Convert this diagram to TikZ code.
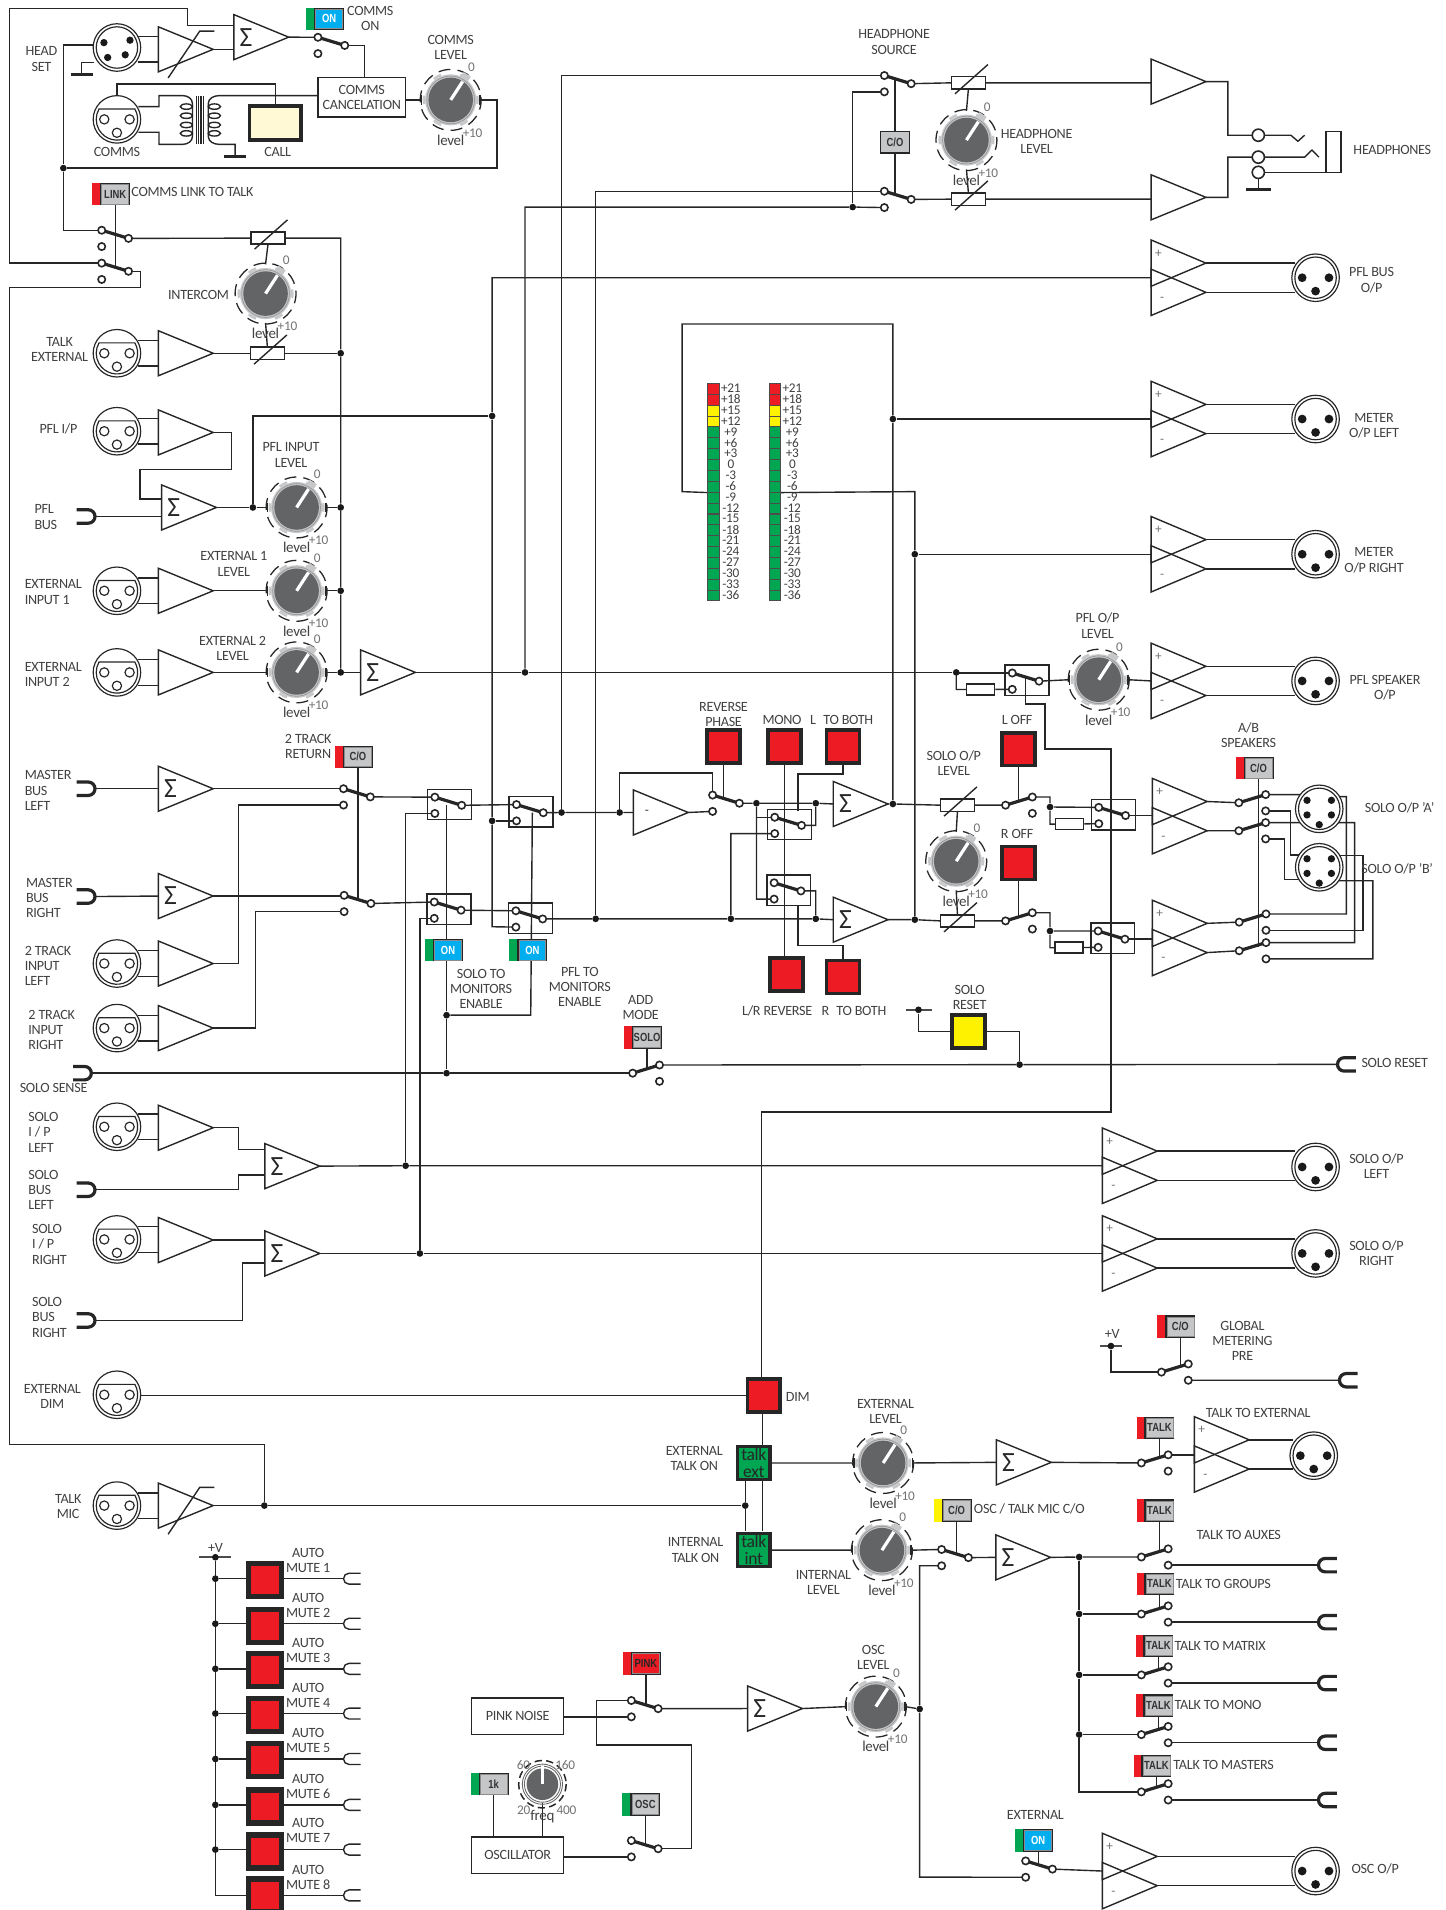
\documentclass[tikz,border=0pt]{standalone}
\usepackage{fontspec}
\setmainfont{Carlito}[LetterSpace=-2]
\newfontfamily\panelfont{Liberation Sans}[FakeStretch=0.8]
\usetikzlibrary{calc}
\pgfdeclarelayer{wires}
\pgfsetlayers{wires,main}
\definecolor{lampred}{HTML}{ED1C24}
\definecolor{lampgreen}{HTML}{00A651}
\definecolor{lampyellow}{HTML}{FFF200}
\definecolor{lampcream}{HTML}{FFF9D6}
\definecolor{onblue}{HTML}{00AEEF}
\definecolor{panelgray}{HTML}{C4C6C8}
\definecolor{knobgray}{HTML}{636466}
\definecolor{ringgray}{HTML}{C7C8CA}
\definecolor{inkgray}{HTML}{414042}
\tikzset{wire/.style={line width=.65pt,draw=black!85}}
\tikzset{wiper/.style={line width=1.5pt,draw=black!85}}
\tikzset{term/.style={fill=white,draw=black!85,line width=.75pt}}
\tikzset{bar/.style={line width=1.5pt,draw=black!85}}
\tikzset{lbl/.style={font=\fontsize{6.6}{7.1}\selectfont,text=inkgray,align=center,inner sep=0pt}}
\tikzset{lbll/.style={lbl,align=left,anchor=west}}
\tikzset{small/.style={font=\fontsize{6.2}{7}\selectfont,text=black!55,inner sep=0pt}}
\tikzset{dot/.style={circle,fill=black!90,inner sep=0pt,minimum size=.11cm}}
\tikzset{ring/.style={circle,draw=black!85,fill=white,line width=.75pt,inner sep=0pt,minimum size=.2cm}}
\tikzset{lamp/.style={rectangle,draw=black!85,line width=1.7pt,fill=lampred,inner sep=0pt,minimum size=.54cm}}
\tikzset{biglamp/.style={lamp,line width=2.5pt,minimum size=.54cm}}
\tikzset{talklamp/.style={lamp,fill=lampgreen,align=center,text=black!85,font=\fontsize{8.2}{7.6}\selectfont}}
\tikzset{res/.style={rectangle,draw=black!85,fill=white,line width=.7pt,inner sep=0pt,minimum width=.5cm,minimum height=.18cm}}
\tikzset{blockbox/.style={rectangle,draw=black!85,fill=white,line width=.7pt,inner sep=0pt,align=center,text=inkgray,font=\fontsize{6.6}{7.1}\selectfont}}
\tikzset{seg/.style={rectangle,draw=black!70,line width=.4pt,inner sep=0pt,minimum width=.19cm,minimum height=.178cm}}
\tikzset{panelbox/.style={rectangle,draw=black!85,line width=.6pt,inner sep=0pt,minimum width=.47cm,minimum height=.35cm,text=black!80,font=\panelfont\bfseries\fontsize{5.5}{6}\selectfont}}
% switch, contacts on the left
\tikzset{swr/.pic={
  \coordinate (-a) at (0,0);
  \coordinate (-b) at (0,13.4);
  \coordinate (-c) at (22,6.7);
  \coordinate (-m) at (11,3.35);
  \draw[wiper] (-a) -- (-c);
  \draw[term] (-a) circle (3) (-b) circle (3) (-c) circle (3);
}}
% switch, contacts on the right
\tikzset{swl/.pic={
  \coordinate (-c) at (0,0);
  \coordinate (-a) at (22,-6.7);
  \coordinate (-b) at (22,6.7);
  \coordinate (-m) at (11,-3.35);
  \draw[wiper] (-c) -- (-a);
  \draw[term] (-a) circle (3) (-b) circle (3) (-c) circle (3);
}}
\tikzset{swb/.pic={
  \coordinate (-a) at (0,0);
  \coordinate (-b) at (0,13.4);
  \coordinate (-c) at (22,6.7);
  \coordinate (-m) at (11,3.35);
  \draw[wire] (-6,-6.5) rectangle (30,18.5);
  \draw[wiper] (-a) -- (-c);
  \draw[term] (-a) circle (3) (-b) circle (3) (-c) circle (3);
}}
\tikzset{amp/.pic={
  \coordinate (-in) at (0,0);
  \coordinate (-out) at (45,0);
  \draw[wire,line join=miter] (0,-18.5) -- (45,0) -- (0,18.5) -- cycle;
}}
\tikzset{sumamp/.pic={
  \coordinate (-in) at (0,0);
  \coordinate (-out) at (45,0);
  \draw[wire,line join=miter] (0,-18.5) -- (45,0) -- (0,18.5) -- cycle;
  \node[inner sep=0pt,text=black!85,font=\fontsize{13}{13}\selectfont] (-s) at (10,0) {Σ};
}}
\tikzset{negamp/.pic={
  \coordinate (-in) at (0,0);
  \coordinate (-out) at (45,0);
  \draw[wire,line join=miter] (0,-18.5) -- (45,0) -- (0,18.5) -- cycle;
  \node[small,text=black!80] (-s) at (11,0) {-};
}}
\tikzset{vcaamp/.pic={
  \coordinate (-in) at (0,0);
  \coordinate (-out) at (45,0);
  \draw[wire,line join=miter] (0,-18.5) -- (45,0) -- (0,18.5) -- cycle;
  \draw[wire] (8,23.5) -- (34,-15) -- (46,-15);
}}
\tikzset{diffamp/.pic={
  \coordinate (-in) at (0,0);
  \coordinate (-tu) at (45,-12);
  \coordinate (-td) at (45,12);
  \draw[wire,line join=miter] (0,-31) -- (45,-12) -- (0,7) -- cycle;
  \draw[wire,line join=miter] (0,-7) -- (45,12) -- (0,31) -- cycle;
  \node[small] (-p) at (6,-20) {+};
  \node[small] (-q) at (9,18) {-};
}}
\tikzset{xlrf/.pic={
  \coordinate (-u) at (17,-10.5);
  \coordinate (-d) at (17,10.5);
  \coordinate (-r) at (19,0);
  \coordinate (-t) at (0,-19);
  \draw[term,line width=.55pt] (0,0) circle (19.5);
  \draw[line width=.55pt,draw=black!85] (-30:17) arc[start angle=-30,end angle=210,radius=17] -- cycle;
  \draw[line width=.55pt,draw=black!85] (-10.4,0) circle (3.8) (10.4,0) circle (3.8) (0,11) circle (3.8);
}}
\tikzset{xlrm/.pic={
  \coordinate (-u) at (-17,-12);
  \coordinate (-d) at (-17,12);
  \draw[term,line width=.55pt] (0,0) circle (19.5) (0,0) circle (17);
  \fill[black!90] (-11,0) circle (3.6) (11,0) circle (3.6) (0,11) circle (3.6);
}}
\tikzset{xlrv/.pic={
  \draw[term,line width=.55pt] (0,0) circle (19.5) (0,0) circle (17);
  \fill[black!90] (-10,-7) circle (3) (10,-7) circle (3) (-10,5) circle (3) (10,5) circle (3) (0,13) circle (3);
}}
\tikzset{jackl/.pic={
  \coordinate (-p) at (0,0);
  \draw[bar] (-15,-5.5) -- (-5.5,-5.5) arc[start angle=-90,end angle=90,radius=5.5] -- (-15,5.5);
}}
\tikzset{jackr/.pic={
  \coordinate (-p) at (0,0);
  \draw[bar] (15,-5.5) -- (5.5,-5.5) arc[start angle=270,end angle=90,radius=5.5] -- (15,5.5);
}}
\tikzset{jackm/.pic={
  \coordinate (-p) at (0,0);
  \draw[wire] (14,-4.5) -- (4.5,-4.5) arc[start angle=270,end angle=90,radius=4.5] -- (14,4.5);
}}
\tikzset{vres/.pic={
  \coordinate (-t) at (0,-5);
  \coordinate (-b) at (0,5);
  \coordinate (-l) at (-14,0);
  \coordinate (-r) at (14,0);
  \draw[term,line width=.7pt] (-14,-5) rectangle (14,5);
  \draw[wire] (-11,9) -- (16,-15);
}}
\newcommand{\knobdraw}{%
  \draw[line width=.6pt,draw=black!85,dash pattern=on 5.6pt off 3.3pt,dash phase=1pt] (0,0) circle (25);
  \fill[ringgray] (0,0) circle (21);
  \foreach \ang in {-120,-180,60,120,0,-60}
    \draw[ringgray,line width=1.2pt] (\ang-9:22) arc[start angle=\ang-9,end angle=\ang+9,radius=22];
  \fill[ringgray] (-57:20) -- ++(33:3.5) -- ++(-57:5) -- ++(213:7) -- ++(123:5) -- cycle;
  \draw[line width=.35pt,draw=black!40] (0,0) circle (19.6);
  \fill[knobgray] (0,0) circle (18.3);
  \draw[white,line width=1.5pt] (0,0) -- (-57:18);
  \node[small] (-z) at (17,-27) {0};
  \node[small] (-v) at (18,27) {+10};
  \node[small,text=inkgray,font=\fontsize{7}{7}\selectfont] (-w) at (0,33) {level};
  \coordinate (-l) at (-24,0);
  \coordinate (-r) at (24,0);
  \coordinate (-t) at (0,-24);
  \coordinate (-b) at (0,24);
}
\tikzset{knob/.pic={\knobdraw}}
\tikzset{knobt/.pic={
  \draw[wire] (-24,-4) -- (-24,4) (24,-4) -- (24,4);
  \knobdraw
}}
\newcommand{\panel}[6]{%
  \node[panelbox,#5] (#1) at (#2,#3) {#6};
  \fill[#4] ([xshift=-.13cm]#1.north west) rectangle (#1.south west);
  \draw[line width=.3pt,draw=black!45] ([shift={(.7pt,-.7pt)}]#1.north west) rectangle ([shift={(-.7pt,.7pt)}]#1.south east);
}

\begin{document}
\begin{tikzpicture}[x=.02cm,y=-.02cm]
  \useasboundingbox (0,0) rectangle (1187,1568);
  % ---- sockets and amps
  \foreach \nm/\x/\y in {xComms/96/98,xTalkExt/96/290,xPfl/96/354,xExt1/96/485,xExt2/96/552,x2L/96/791,x2R/96/844,xSoloL/96/925,xSoloR/96/1017.5,xDim/96/1145,xMic/96/1236}
    \pic (\nm) at (\x,\y) {xlrf};
  \foreach \nm/\x/\y in {oPflBus/1080/228,oMetL/1080/344,oMetR/1080/455,oPflSp/1080/559,oSoloL/1080/958,oSoloR/1080/1029,oTalk/1078.5/1195,oOsc/1080/1536}
    \pic (\nm) at (\x,\y) {xlrm};
  \foreach \nm/\x/\y in {aTalkExt/130/290,aPfl/130/355,aExt1/130/485,aExt2/130/552,a2L/130/791,a2R/130/844,aSoloL/130/925.8,aSoloR/130/1018,aHpL/945/67,aHpR/945/162}
    \pic (\nm) at (\x,\y) {amp};
  \foreach \nm/\x/\y in {sComms/192/30.5,sPfl/132.7/416.6,sExt/296/552,sMastL/130/647.5,sMastR/130/735.6,sSoloL/217.5/957.3,sSoloR/217.5/1029,sMonoL/684/660,sMonoR/684/755,sExtTalk/818/1200.5,sIntTalk/817.5/1278.5,sOsc/613.8/1402.6}
    \pic (\nm) at (\x,\y) {sumamp};
  \pic (aHead) at (130,40.5) {vcaamp};
  \pic (aMic) at (130,1236) {vcaamp};
  \pic (aRev) at (520,667) {negamp};
  \foreach \nm/\x/\y in {dPflBus/945/228,dMetL/945/344,dMetR/945/455,dPflSp/945/559,dA/946/670,dB/946/770,dSoloL/905/957,dSoloR/905/1029,dTalk/980.5/1194,dOsc/905/1536}
    \pic (\nm) at (\x,\y) {diffamp};
  % head set and 5 pin sockets
  \draw[term,line width=.55pt] (96,39) circle (19.5) (96,39) circle (17);
  \fill[black!90] (85.3,35) circle (3) (106.7,33) circle (3) (88.4,47.2) circle (3) (102.8,45) circle (3);
  \pic (oSpkA) at (1083,664) {xlrv};
  \pic (oSpkB) at (1083,712) {xlrv};
  % ---- knobs
  \foreach \nm/\x/\y in {kIntercom/218/241,kHp/793.4/115,kSoloOut/785/707}
    \pic (\nm) at (\x,\y) {knob};
  \foreach \nm/\x/\y in {kComms/370/82,kPfl/243.5/416.6,kExt1/243.5/485,kExt2/243.5/552,kPflOut/902/558,kExtTalk/725/1201,kIntTalk/724/1272.6,kOsc/719/1401}
    \pic (\nm) at (\x,\y) {knobt};
  % freq knob
  \draw[line width=.7pt,draw=black!85,dash pattern=on 3.4pt off 2pt] (445.3,1464.7) circle (19.5);
  \draw[line width=.4pt,draw=black!60] (445.3,1464.7) circle (16.5) (445.3,1464.7) circle (14.8);
  \fill[knobgray] (445.3,1464.7) circle (13);
  \draw[white,line width=1.4pt] (445.3,1464.7) -- (445.3,1450);
  % ---- resistors
  \foreach \nm/\x/\y in {rIntercom/220/195.5,rTalkExt/219.5/290,rHpL/795/68,rHpR/795/163.5,rSoloL/786/661,rSoloR/786/756}
    \pic (\nm) at (\x,\y) {vres};
  \foreach \nm/\x/\y in {rPflOut/805/566,rSoloA/878/676.5,rSoloB/877.5/778}
    \node[res,minimum width=.46cm] (\nm) at (\x,\y) {};
  % ---- switches
  \foreach \nm/\x/\y in {wComms/261/30.6,wLink1/83.5/189,wLink2/83.5/216,wHp1/726/62,wHp2/726/157,w2L/282/647.5,w2R/282.5/735,wRev/585/652.7,wIntSel/773/1272,wPink/518.3/1396,wOsc/518.3/1511,wExtOn/842/1527.7}
    \pic (\nm) at (\x,\y) {swr};
  \foreach \nm/\x/\y in {wMon1/357/654.4,wPfl1/424/660.5,wMon2/356.5/740.5,wPfl2/423.5/747.7,wMono1/636/670.9,wMono2/635.5/724.7,wPflOut/831/552.5,wBoxL/902/662.8,wBoxR/901.5/764.3}
    \pic (\nm) at (\x,\y) {swb};
  \foreach \nm/\x/\y in {wAdd/519.4/881,wLoff/825.5/661,wRoff/825.5/756,wAB1/1017/659,wAB2/1017/682,wAB3/1017.3/757,wAB4/1017.3/780.5,wGlobal/953.5/1126.4,wTalk1/937/1201,wTalk2/937/1278.2,wTalk3/937/1325,wTalk4/937/1375,wTalk5/937/1424,wTalk6/937/1471}
    \pic (\nm) at (\x,\y) {swl};
  % ---- lamps
  \foreach \nm/\x/\y in {lRev/594/613,lMono/644/613,lLBoth/692/613,lLR/645.7/800,lRBoth/692/802,lLoff/836/615,lRoff/836/708.5,lDim/627/1145.5}
    \node[lamp] (\nm) at (\x,\y) {};
  \node[lamp,fill=lampyellow] (lReset) at (795,847) {};
  \node[lamp,fill=lampcream,minimum width=.85cm,minimum height=.55cm] (lCall) at (226,101) {};
  \node[talklamp] (tExt) at (618.8,1201) {talk\\ext};
  \node[talklamp] (tInt) at (618.8,1272.5) {talk\\int};
  % ---- panel buttons
  \panel{pComms}{270.25}{15.5}{lampgreen}{fill=onblue,text=white}{ON}
  \panel{pLink}{94.6}{159.3}{lampred}{fill=panelgray}{LINK}
  \panel{p2T}{293.8}{621.3}{lampred}{fill=panelgray}{C/O}
  \panel{pMon}{367.8}{780}{lampgreen}{fill=onblue,text=white}{ON}
  \panel{pPfl}{437}{780}{lampgreen}{fill=onblue,text=white}{ON}
  \panel{pSolo}{531.2}{851.7}{lampred}{fill=panelgray}{SOLO}
  \node[panelbox,fill=panelgray] (pHp) at (734.7,116.8) {C/O};
  \panel{pAB}{1033.2}{630.6}{lampred}{fill=panelgray}{C/O}
  \panel{pGlobal}{969}{1089.2}{lampred}{fill=panelgray}{C/O}
  \panel{pT1}{951.8}{1172.2}{lampred}{fill=panelgray}{TALK}
  \panel{pT2}{951.8}{1240.2}{lampred}{fill=panelgray}{TALK}
  \panel{pT3}{951.8}{1300.3}{lampred}{fill=panelgray}{TALK}
  \panel{pT4}{951}{1351.2}{lampred}{fill=panelgray}{TALK}
  \panel{pT5}{951}{1400.3}{lampred}{fill=panelgray}{TALK}
  \panel{pT6}{949.3}{1449.6}{lampred}{fill=panelgray}{TALK}
  \panel{pSel}{785.3}{1239.8}{lampyellow}{fill=panelgray}{C/O}
  \panel{pExtOn}{852.3}{1511}{lampgreen}{fill=onblue,text=white}{ON}
  \panel{pPink}{530.2}{1365.5}{lampred}{fill=lampred,text=black!85}{PINK}
  \panel{pOsc}{529.8}{1481.2}{lampgreen}{fill=panelgray}{OSC}
  \panel{p1k}{405.2}{1464.7}{lampgreen}{fill=panelgray}{1k}
  % ---- blocks
  \node[blockbox,minimum width=1.43cm,minimum height=.65cm] (bCancel) at (297,80) {COMMS\\CANCELATION};
  \node[blockbox,minimum width=1.51cm,minimum height=.6cm] (bPink) at (425,1409) {PINK NOISE};
  \node[blockbox,minimum width=1.51cm,minimum height=.6cm] (bOsc) at (425,1523) {OSCILLATOR};
  % ---- bus connectors
  \foreach \nm/\x/\y in {cPfl/78/424,cMastL/78/647.5,cMastR/78/736,cSense/75/881,cSoloL/78/976.7,cSoloR/78/1084}
    \pic (\nm) at (\x,\y) {jackl};
  \foreach \nm/\x/\y in {cReset/1098/873.8,cGlobal/1099.6/1133.1,cT2/1082.4/1284.9,cT3/1082.4/1331.7,cT4/1082.4/1381.7,cT5/1082.4/1430.7,cT6/1082.4/1477.7}
    \pic (\nm) at (\x,\y) {jackr};
  % ---- meters
  \foreach \lab [count=\i from 0] in {+21,+18,+15,+12,+9,+6,+3,0,-3,-6,-9,-12,-15,-18,-21,-24,-27,-30,-33,-36} {
    \ifnum\i<2 \def\segcol{lampred}\else\ifnum\i<4 \def\segcol{lampyellow}\else\def\segcol{lampgreen}\fi\fi
    \node[seg,fill=\segcol] (mL\i) at (585.6,{319.2+8.93*\i}) {};
    \node[seg,fill=\segcol] (mR\i) at (636.2,{319.2+8.93*\i}) {};
    \node[small,text=inkgray] (tL\i) at (600,{318.7+8.93*\i}) {\lab};
    \node[small,text=inkgray] (tR\i) at (650.5,{318.7+8.93*\i}) {\lab};
  }
  % ---- junctions
  \foreach \nm/\x/\y in {jHead/52/138,jBus1/279.7/290,jBus2/279.7/416.6,jBus3/279.7/485,jBus4/279.7/552,jPfl/207.6/416.6,jPflBus/404/341.5,jPflIn/404/673.9,jSum/431/552,jLeft/461/667,jRev/508.7/667,jRight/489/754.3,jHp/700/170,jMet1/733/344,jMet2/751/455,jMeterL/733/660,jMeterR/751/755,jSumSp/785/552,jMix1/621/659.4,jMix2/669.7/659.4,jMix3/600/754.3,jMix4/669.7/754.3,jSolo1/333/957,jSolo2/344.7/1029,jMon/366.6/833.4,jSense/366.6/881,jReset/837/874,jL/862/662.5,jR/862/764.3,jTalk/217/1236,jDimTalk/611.8/1236,jT1/885.9/1278.2,jT2/885.9/1325,jT3/885.9/1375,jT4/885.9/1424,jOsc/755/1403,jV1/912/1105,jV2/754/829,jV0/176.8/1278.4}
    \node[dot] (\nm) at (\x,\y) {};
  % ---- auto mutes
  \foreach \i/\ly/\wy/\ty in {1/1297/1296/1281,2/1335/1333/1318,3/1371/1370/1355,4/1408/1406.7/1392,5/1445/1444/1429,6/1483/1481.7/1466.5,7/1520/1518.4/1503,8/1556/1556/1541} {
    \node[biglamp] (lM\i) at (217.5,\ly) {};
    \pic (cM\i) at (282,\wy) {jackm};
    \coordinate (vM\i) at (176.8,\wy);
    \node[lbl] (tM\i) at (253,\ty) {AUTO\\MUTE \i};
    \ifnum\i<8 \node[dot] (jM\i) at (vM\i) {}; \fi
  }
  % ---- labels
  \foreach \nm/\x/\y/\t in {tHead/34/48.5/{HEAD\\SET},tCommsOn/304/15/{COMMS\\ON},tCommsLev/370/39/{COMMS\\LEVEL},tComms/96/125/{COMMS},tCall/228/125/{CALL},tLink/158/158/{COMMS LINK TO TALK},tIntercom/163/242/{INTERCOM},tTalkExt/49/287/{TALK\\EXTERNAL},tPflIp/48/352/{PFL I/P},tPflLev/239/373.5/{PFL INPUT\\LEVEL},tExt1Lev/192/463/{EXTERNAL 1\\LEVEL},tExt2Lev/191/532/{EXTERNAL 2\\LEVEL},t2Ret/253/613/{2 TRACK\\RETURN},tSense/44/893/{SOLO SENSE},tDimIn/43/1146.5/{EXTERNAL\\DIM},tMic/56/1237/{TALK\\MIC},tHpSrc/734/34.5/{HEADPHONE\\SOURCE},tHpLev/851/116/{HEADPHONE\\LEVEL},tHp/1143/123/{HEADPHONES},tPflBus/1126/230/{PFL BUS\\O/P},tMetL/1128/349.5/{METER\\O/P LEFT},tMetR/1128/460/{METER\\O/P RIGHT},tPflSp/1137/564.5/{PFL SPEAKER\\O/P},tPflOutLev/901/513.5/{PFL O/P\\LEVEL},tRevPh/594/586.5/{REVERSE\\PHASE},tMono/642/591/{MONO},tLBoth/691/591/{L\kern2pt\ TO BOTH},tLRrev/638/830/{L/R REVERSE},tRBoth/701/830/{R\kern2pt\ TO BOTH},tLoff/835/591/{L OFF},tRoff/835/685/{R OFF},tSoloLev/783/626.5/{SOLO O/P\\LEVEL},tAB/1025/603.5/{A/B\\SPEAKERS},tSpkA/1149/663/{SOLO O/P 'A'},tSpkB/1147/713/{SOLO O/P 'B'},tSoloMon/395/812/{SOLO TO\\MONITORS\\ENABLE},tPflMon/476/810/{PFL TO\\MONITORS\\ENABLE},tAdd/526/827/{ADD\\MODE},tReset/796/819/{SOLO\\RESET},tResetOut/1145/873/{SOLO RESET},tSoloOutL/1130/957.5/{SOLO O/P\\LEFT},tSoloOutR/1130/1028.5/{SOLO O/P\\RIGHT},tGlobal/1020/1101/{GLOBAL\\METERING\\PRE},tGv/913/1095/{+V},tTalkToExt/1033/1160/{TALK TO EXTERNAL},tDim/655/1147/{DIM},tExtOn/570/1197.5/{EXTERNAL\\TALK ON},tIntOn/571/1272.5/{INTERNAL\\TALK ON},tExtLev/727/1159/{EXTERNAL\\LEVEL},tIntLev/676/1299/{INTERNAL\\LEVEL},tSel/845/1239/{OSC / TALK MIC C/O},tAuxes/1017/1260/{TALK TO AUXES},tExternal/850/1490/{EXTERNAL},tOscOut/1129/1534/{OSC O/P},tOscLev/717/1360.5/{OSC\\LEVEL},tVm/177/1271/{+V}}
    \node[lbl] (\nm) at (\x,\y) {\t};
  \foreach \nm/\x/\y/\t in {tPflB/28/424.5/{PFL\\BUS},tMastL/20/649/{MASTER\\BUS\\LEFT},tMastR/21/737/{MASTER\\BUS\\RIGHT},t2L/20/793/{2 TRACK\\INPUT\\LEFT},t2R/23/845.5/{2 TRACK\\INPUT\\RIGHT},tSoloIL/23/929.5/{SOLO\\I / P\\LEFT},tSoloBL/23/977/{SOLO\\BUS\\LEFT},tSoloIR/26/1021.5/{SOLO\\I / P\\RIGHT},tSoloBR/26/1081.5/{SOLO\\BUS\\RIGHT},tExt1/20/486/{EXTERNAL\\INPUT 1},tExt2/20/554/{EXTERNAL\\INPUT 2},tTG/965/1300/{TALK TO GROUPS},tTMx/964/1351/{TALK TO MATRIX},tTMo/964/1400/{TALK TO MONO},tTMa/963/1449/{TALK TO MASTERS}}
    \node[lbll] (\nm) at (\x,\y) {\t};
  \foreach \nm/\x/\y/\t in {t60/429.7/1448.6/60,t160/464/1448.6/160,t20/430/1486.4/20,t400/465/1486.4/400}
    \node[small] (\nm) at (\x,\y) {\t};
  \node[small,text=inkgray,font=\fontsize{7}{7}\selectfont] (tFreq) at (445.3,1491.5) {freq};
  % ---- wires
  \begin{pgfonlayer}{wires}
    % head set and comms
    \draw[wire] (sComms-in |- 0,21) -- (154,21) -- (154,7) -- (8,7) -- (8,216) -- (wLink2-a);
    \draw[wire] (77,37) -- (52,37) -- (jHead) -- (52,189) -- (wLink1-a);
    \draw[wire] (77,51.5) -- (67,51.5) -- (67,61);
    \draw[bar] (58,61) -- (76,61);
    \draw[wire] (113,30) -- (130,30) (113,51) -- (130,51);
    \draw[wire] (aHead-out) -- (sComms-in |- aHead-out);
    \draw[wire] (sComms-out) -- (wComms-a);
    \draw[wire] (wComms-c) -| (bCancel.north -| 299,0);
    \draw[wire] (xComms-t) |- (lCall.north |- 0,69) -- (lCall.north);
    \draw[wire] (113.6,87.5) -- (130.5,87.5) -- (130.5,78.5) -- (150,78.5) to[out=0,in=90] (158,85) -- (158,112) to[out=-90,in=0] (150,118.5) -- (130.5,118.5) -- (130.5,108.6) -- (113.6,108.6);
    \draw[wire] (bCancel.west |- 0,78.5) -- (180,78.5) to[out=180,in=90] (171,85) -- (171,112) to[out=-90,in=180] (180,118.5) -- (193,118.5) -- (193,128.6);
    \draw[bar] (184,128.6) -- (202,128.6);
    \draw[wire] (bCancel.east |- kComms-l) -- (kComms-l) (kComms-r) -- (408,82) -- (408,138) -- (jHead);
    % transformer
    \foreach \ey in {87.5,95,102.6,109.5} {
      \draw[wire] (153,\ey) ellipse (5 and 2.2);
      \draw[wire] (176,\ey) ellipse (5 and 2.2);
    }
    \draw[line width=.5pt,draw=black!85] (161,79) -- (161,118) (163,79) -- (163,118) (165,79) -- (165,118) (167,79) -- (167,118);
    % intercom
    \draw[wire] (wLink1-c) -- (rIntercom-l) (rIntercom-r) -- (279.7,195.5) -- (jBus1) -- (jBus2) -- (jBus3) -- (jBus4);
    \draw[wire] (wLink2-c) -- (115.5,222.7) -- (115.5,236) -- (8,236) -- (8,1186) -- (217,1186) -- (jTalk);
    \draw[wire] (rIntercom-b) -- (kIntercom-t) (kIntercom-b) -- (rTalkExt-t);
    \draw[wire] (pLink.south) -- (pLink.south |- wLink2-m);
    \draw[wire] (aTalkExt-out) -- (rTalkExt-l) (rTalkExt-r) -- (jBus1);
    % inputs
    \foreach \a/\b in {xTalkExt/aTalkExt,xPfl/aPfl,xExt1/aExt1,xExt2/aExt2,x2L/a2L,x2R/a2R,xSoloL/aSoloL,xSoloR/aSoloR,xMic/aMic}
      \draw[wire] (\a-u) -- (\a-u -| \b-in) (\a-d) -- (\a-d -| \b-in);
    \foreach \a/\b in {dPflBus/oPflBus,dMetL/oMetL,dMetR/oMetR,dPflSp/oPflSp,dSoloL/oSoloL,dSoloR/oSoloR,dTalk/oTalk,dOsc/oOsc}
      \draw[wire] (\a-tu) -- (\a-tu -| \b-u) (\a-td) -- (\a-td -| \b-d);
    \draw[wire] (aPfl-out) -- (190,355) -- (190,385.6) -- (115,385.6) -- (115,409.7) -- (sPfl-in |- 0,409.7);
    \draw[wire] (cPfl-p) -- (sPfl-in |- cPfl-p);
    \draw[wire] (sPfl-out) -- (jPfl) -- (kPfl-l) (kPfl-r) -- (jBus2);
    \draw[wire] (aExt1-out) -- (kExt1-l) (kExt1-r) -- (jBus3);
    \draw[wire] (aExt2-out) -- (kExt2-l) (kExt2-r) -- (jBus4) -- (sExt-in);
    \draw[wire] (jPfl) -- (207.6,341.5) -- (jPflBus);
    \draw[wire] (dPflBus-in) -- (404,228) -- (jPflBus) -- (jPflIn) -- (404,760.8) -- (wPfl2-b);
    \draw[wire] (jPflIn) -- (wPfl1-b);
    \draw[wire] (sExt-out) -- (jSum) -- (jSumSp) -- (785,552.5) -- (wPflOut-a);
    \draw[wire] (jSumSp) -- (785,566) -- (rPflOut) -- (wPflOut-b);
    \draw[wire] (wPflOut-c) -- (kPflOut-l) (kPflOut-r) -- (dPflSp-in);
    % headphones
    \draw[wire] (jSum) -- (431,170) -- (jHp) -- (wHp2-b);
    \draw[wire] (jHp) -- (700,75.4) -- (wHp1-b);
    \draw[wire] (wHp1-a) -- (461,62) -- (jLeft);
    \draw[wire] (wHp2-a) -- (489,157) -- (jRight);
    \draw[wire] (wHp1-c) -- (rHpL-l) (rHpL-r) -- (aHpL-in |- rHpL-r);
    \draw[wire] (wHp2-c) -- (rHpR-l) (rHpR-r) -- (aHpR-in |- rHpR-r);
    \draw[wire] (rHpL-b) -- (kHp-t) (kHp-b) -- (rHpR-t);
    \draw[wire] (wHp1-m -| pHp.north) -- (wHp2-m -| pHp.south);
    \draw[wire] (aHpL-out) -- (1008,67) -- (1008,111) -- (1059.7,111) -- (1065.5,116) -- (1071,111);
    \draw[wire] (aHpR-out) -- (1008,162) -- (1008,129) -- (1071,129) -- (1077,123.2) -- (1082.7,129);
    \draw[wire] (1033,141.5) -- (1088.7,141.5) -- (1088.7,107.8) -- (1101,107.8) -- (1101,141.5) -- (1088.7,141.5);
    \draw[wire] (1033,141.5) -- (1033,155.5);
    \draw[bar] (1023,155.5) -- (1043.7,155.5);
    % meters
    \draw[wire] (mL9.south west) -- (560,403.6) -- (560,266) -- (733,266) -- (jMet1) -- (jMeterL);
    \draw[wire] (mR9.south east) -- (751,403.6) -- (jMet2) -- (jMeterR);
    \draw[wire] (jMet1) -- (dMetL-in);
    \draw[wire] (jMet2) -- (dMetR-in);
    % 2 track and monitors
    \draw[wire] (sMastL-out) -- (w2L-a);
    \draw[wire] (sMastR-out) -- (sMastR-out -| w2R-a);
    \draw[wire] (cMastL-p) -- (sMastL-in);
    \draw[wire] (cMastR-p) -- (sMastR-in);
    \draw[wire] (p2T.south) -- (p2T.south |- w2R-m);
    \draw[wire] (a2L-out) -- (195.6,791) -- (195.6,660.9) -- (w2L-b);
    \draw[wire] (a2R-out) -- (209.6,844) -- (209.6,748.4) -- (w2R-b);
    \draw[wire] (w2L-c) -- (wMon1-a) (wMon1-c) -- (wPfl1-a) (wPfl1-c) -- (jLeft) -- (jRev) -- (aRev-in);
    \draw[wire] (w2R-c) -- (wMon2-a) (wMon2-c) -- (wPfl2-a) (wPfl2-c) -- (jRight) -- (jMix3) -- (jMix4) -- (sMonoR-in);
    \draw[wire] (wMon1-b) -- (333,667.8) -- (jSolo1);
    \draw[wire] (wMon2-b) -- (344.7,753.9) -- (jSolo2);
    \draw[wire] (wMon1-c -| jMon) -- (jMon) -- (jSense);
    \draw[wire] (wPfl1-c -| pPfl.north) -- (435.7,833.4) -- (jMon);
    \draw[wire] (cSense-p) -- (jSense) -- (wAdd-c);
    \draw[wire] (jRev) -- (508.7,634.7) -- (585,634.7) -- (wRev-a);
    \draw[wire] (aRev-out) -- (wRev-b);
    \draw[wire] (wRev-c) -- (jMix1) -- (jMix2) -- (sMonoL-in);
    \draw[wire] (jMix1) -- (621,738.1) -- (wMono2-b);
    \draw[wire] (621,670.9) -- (wMono1-a);
    \draw[wire] (jMix3) -- (600,684.3) -- (wMono1-b);
    \draw[wire] (wMono1-c) -- (669.7,677.6) -- (jMix2);
    \draw[wire] (wMono2-c) -- (669.7,731.4) -- (jMix4);
    \draw[wire] (lMono.south) -- (lMono.south |- lLR.north);
    \draw[wire] (lLBoth.south) -- (lLBoth.south |- 0,635.5) -- (655,635.5) -- (655,665.6);
    \draw[wire] (655,743.8) -- (655,776) -- (lRBoth.north |- 0,776) -- (lRBoth.north);
    \draw[wire] (lRev.south) -- (lRev.south |- wRev-m);
    % solo outputs
    \draw[wire] (sMonoL-out) -- (jMeterL) -- (rSoloL-l) (rSoloL-r) -- (wLoff-c);
    \draw[wire] (sMonoR-out) -- (jMeterR) -- (rSoloR-l) (rSoloR-r) -- (wRoff-c);
    \draw[wire] (rSoloL-b) -- (kSoloOut-t) (kSoloOut-b) -- (rSoloR-t);
    \draw[wire] (lLoff.south) -- (lLoff.south |- wLoff-m);
    \draw[wire] (lRoff.south) -- (lRoff.south |- wRoff-m);
    \draw[wire] (wLoff-a) -- (862,654.3) -- (jL) -- (wBoxL-a);
    \draw[wire] (jL) -- (862,676.5) -- (rSoloA) -- (wBoxL-b);
    \draw[wire] (wRoff-a) -- (862,749.3) -- (jR) -- (wBoxR-a);
    \draw[wire] (jR) -- (862,778) -- (rSoloB) -- (wBoxR-b);
    \draw[wire] (wBoxL-c) -- (dA-in |- wBoxL-c);
    \draw[wire] (wBoxR-c) -- (dB-in |- wBoxR-c);
    \draw[wire] (dA-tu) -- (wAB1-c) (dA-td) -- (wAB2-c) (dB-tu) -- (wAB3-c) (dB-td) -- (wAB4-c);
    \draw[wire] (pAB.south) -- (pAB.south |- wAB4-m);
    \draw[wire] (wAB1-a) -- (1068,652.3) (1098,654) -- (1105.3,654) -- (1105.3,750.3) -- (wAB3-a);
    \draw[wire] (wAB1-b) -- (1059.6,665.7) -- (1059.6,702) -- (1066,702);
    \draw[wire] (wAB2-a) -- (1112,675.3) -- (1112,773.8) -- (wAB4-a);
    \draw[wire] (wAB2-b) -- (1054.4,688.7) -- (1054.4,721.9) -- (1066,721.9);
    \draw[wire] (1099,702.2) -- (1119,702.2) -- (1119,763.7) -- (wAB3-b);
    \draw[wire] (1099,723) -- (1127,723) -- (1127,787.2) -- (wAB4-b);
    \draw[wire] (wPflOut-m) -- (842,578) -- (858,578) -- (858,615) -- (912,615) -- (912,913) -- (625,913) -- (lDim.north -| 625,0);
    % add mode and reset
    \draw[wire] (pSolo.south) -- (pSolo.south |- wAdd-m);
    \draw[wire] (wAdd-a) -- (jReset) -- (cReset-p);
    \draw[wire] (lReset.east) -- (837,847) -- (jReset);
    \draw[wire] (jV2) -- (754,847) -- (lReset.west);
    \draw[line width=.8pt,draw=black!70] (744,829) -- (765,829) (903,1105) -- (921,1105) (163.7,1278.4) -- (190,1278.4);
    % solo inputs
    \draw[wire] (aSoloL-out) -- (196,925.8) -- (196,943.6) -- (sSoloL-in |- 0,943.6);
    \draw[wire] (cSoloL-p) -- (196,976.7) -- (196,964.7) -- (sSoloL-in |- 0,964.7);
    \draw[wire] (aSoloR-out) -- (sSoloR-in |- aSoloR-out);
    \draw[wire] (cSoloR-p) -- (199,1084) -- (199,1036.7) -- (sSoloR-in |- 0,1036.7);
    \draw[wire] (sSoloL-out) -- (jSolo1) -- (dSoloL-in);
    \draw[wire] (sSoloR-out) -- (jSolo2) -- (dSoloR-in);
    % talk
    \draw[wire] (xDim-r |- lDim.west) -- (lDim.west);
    \draw[wire] (aMic-out) -- (jTalk) -- (jDimTalk);
    \draw[wire] (lDim.south -| 626,0) -- (626,1257);
    \draw[wire] (611.8,1216) -- (jDimTalk) -- (611.8,1257);
    \draw[wire] (tExt.east) -- (kExtTalk-l) (kExtTalk-r) -- (sExtTalk-in);
    \draw[wire] (tInt.east) -- (kIntTalk-l) (kIntTalk-r) -- (wIntSel-a);
    \draw[wire] (sExtTalk-out) -- (wTalk1-c);
    \draw[wire] (wTalk1-a) -- (dTalk-in |- wTalk1-a);
    \draw[wire] (pSel.south) -- (pSel.south |- wIntSel-m);
    \draw[wire] (wIntSel-c) -- (sIntTalk-in);
    \draw[wire] (sIntTalk-out) -- (jT1) -- (wTalk2-c);
    \draw[wire] (jT1) -- (jT2) -- (jT3) -- (jT4) -- (885.9,1471) -- (wTalk6-c);
    \draw[wire] (jT2) -- (wTalk3-c) (jT3) -- (wTalk4-c) (jT4) -- (wTalk5-c);
    \foreach \i in {1,...,6} \draw[wire] (pT\i.south) -- (pT\i.south |- wTalk\i-m);
    \draw[wire] (wTalk2-b) -- (cT2-p) (wTalk3-b) -- (cT3-p) (wTalk4-b) -- (cT4-p) (wTalk5-b) -- (cT5-p) (wTalk6-b) -- (cT6-p);
    % global metering
    \draw[wire] (jV1) -- (912,1126.4) -- (wGlobal-c);
    \draw[wire] (wGlobal-b) -- (cGlobal-p);
    \draw[wire] (pGlobal.south) -- (pGlobal.south |- wGlobal-m);
    % osc
    \draw[wire] (bPink.east |- wPink-b) -- (wPink-b);
    \draw[wire] (wPink-a) -- (489.5,1396) -- (489.5,1432.4) -- (567.5,1432.4) -- (567.5,1517.7) -- (wOsc-c);
    \draw[wire] (bOsc.east |- wOsc-b) -- (wOsc-b);
    \draw[wire] (pPink.south) -- (pPink.south |- wPink-m);
    \draw[wire] (pOsc.south) -- (pOsc.south |- wOsc-m);
    \draw[wire] (p1k.south) -- (p1k.south |- bOsc.north);
    \draw[wire] (445.3,1480) -- (445.3 ,1508);
    \draw[wire] (wPink-c) -- (sOsc-in);
    \draw[wire] (sOsc-out) -- (kOsc-l) (kOsc-r) -- (jOsc);
    \draw[wire] (wIntSel-b) -- (755,1285.4) -- (jOsc) -- (755,1541) -- (wExtOn-b);
    \draw[wire] (pExtOn.south) -- (pExtOn.south |- wExtOn-m);
    \draw[wire] (wExtOn-c) -- (dOsc-in);
    % auto mutes
    \draw[wire] (jV0) -- (vM8) -- (lM8.west);
    \foreach \i in {1,...,7} \draw[wire] (jM\i) -- (lM\i.west |- jM\i);
    \foreach \i in {1,...,8} \draw[wire] (lM\i.east |- cM\i-p) -- (cM\i-p);
  \end{pgfonlayer}
  % headphone socket rings
  \node[ring] (hpT) at (1033,111) {};
  \node[ring] (hpR) at (1033,129) {};
  \node[ring] (hpS) at (1033,141.5) {};
\end{tikzpicture}
\end{document}
